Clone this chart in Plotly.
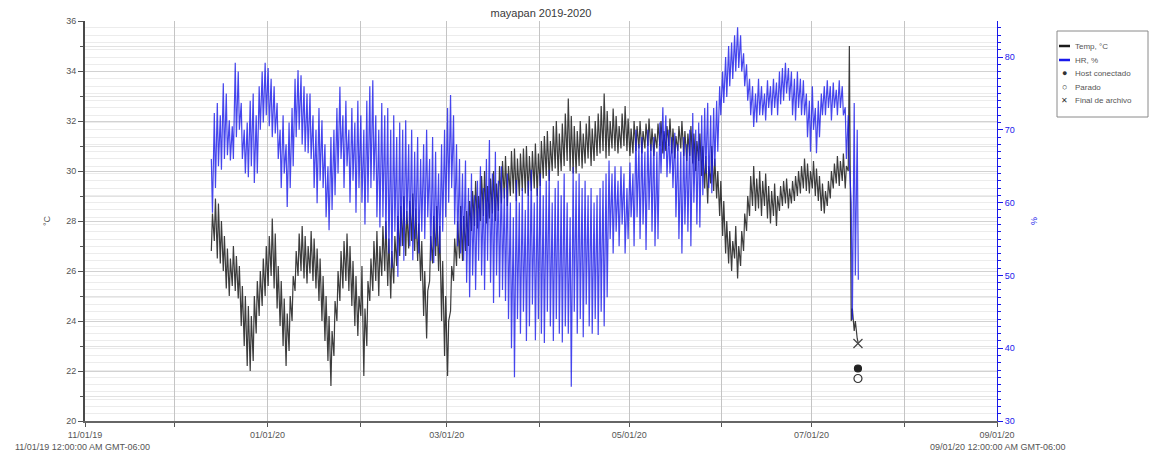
import datetime as dt
import plotly.graph_objects as go

# ---------------- data ----------------
start_day = "2019-12-13"   # first logged day

# daily temperature maxima / minima (degC), one value per day
temp_max = [
    28.3, 28.9, 28.7, 28.0, 27.4, 26.9, 26.5, 27.0, 26.6, 26.2,
    25.4, 25.0, 24.6, 24.2, 25.0, 25.6, 26.0, 26.5, 27.0, 27.4,
    28.1, 27.5, 26.2, 25.6, 24.9, 24.3, 25.0, 25.8, 26.8, 27.5,
    27.8, 27.4, 27.0, 27.6, 27.3, 26.9, 26.5, 25.8, 25.0, 24.2,
    23.6, 24.8, 26.0, 26.8, 27.2, 27.5, 27.0, 26.4, 25.8, 25.0,
    26.2, 24.5, 25.6, 26.5, 27.2, 27.6, 27.0, 27.8, 28.0, 27.3,
    26.8, 27.4, 28.2, 28.6, 29.0, 28.4, 28.8, 29.1, 28.5, 27.9,
    27.2, 26.0, 25.2, 27.4, 28.2, 28.6, 27.8, 26.4, 25.0, 24.0,
    26.2, 27.3, 28.0, 28.6, 28.2, 28.4, 28.8, 29.2, 29.6, 29.0,
    29.8, 30.0, 29.4, 29.7, 30.0, 29.5, 30.2, 30.4, 30.6, 30.2,
    30.8, 30.9, 30.5, 30.7, 30.9, 31.0, 30.6, 30.8, 31.1, 30.7,
    31.2, 31.4, 31.6, 31.2, 31.8, 32.0, 31.5, 31.9, 32.3, 32.9,
    32.2, 31.8, 31.6, 32.0, 31.5, 31.9, 32.2, 31.7, 32.0, 32.3,
    32.6, 33.1, 32.4, 32.0, 32.5, 32.2, 31.8, 32.3, 32.6, 32.1,
    31.7, 32.0, 31.8, 32.0, 31.6, 31.9, 32.1, 31.7, 31.5, 31.9,
    32.0, 31.6, 31.8, 32.1, 31.7, 31.4, 31.8, 32.0, 31.6, 31.5,
    31.8, 31.5, 31.2, 31.5, 31.0, 30.6, 30.2, 31.0, 30.5, 30.0,
    29.6, 28.8, 28.0, 27.6, 27.2, 27.8, 27.0, 27.6, 28.3, 29.0,
    29.8, 30.2, 29.7, 30.0, 29.6, 29.9, 29.4, 29.2, 29.5, 29.0,
    29.4, 29.6, 29.7, 29.3, 29.6, 29.8, 30.0, 30.2, 30.5, 30.3,
    30.0, 30.4, 30.1, 29.8, 29.5, 29.2, 29.6, 30.0, 30.3, 30.6,
    30.4, 30.7, 30.2, 35.0, 24.5, 24.0, 23.1,
]
temp_min = [
    26.8, 27.2, 26.5, 26.3, 26.0, 25.3, 25.0, 25.4, 25.2, 24.9,
    23.8, 23.0, 22.2, 22.0, 22.4, 23.5, 24.2, 24.6, 25.0, 25.4,
    25.8, 25.3, 24.5, 23.8, 23.0, 22.2, 22.8, 24.0, 25.2, 25.8,
    26.0, 25.7, 25.5, 25.9, 25.6, 25.3, 24.8, 24.0, 23.2, 22.4,
    21.4, 22.6, 24.0, 24.8, 25.3, 25.6, 25.2, 24.6, 23.8, 23.4,
    24.2, 21.8, 23.0, 24.8, 25.2, 25.6, 25.0, 25.8, 26.0, 25.4,
    24.9, 25.5, 26.2, 26.6, 27.0, 26.6, 26.9, 27.2, 26.8, 26.4,
    25.6, 24.2, 23.3, 25.6, 26.3, 26.6, 26.0, 24.0, 22.6, 21.8,
    24.4, 25.6, 26.2, 26.5, 26.4, 26.8, 27.0, 27.6, 27.8, 27.7,
    28.0, 28.2, 27.9, 28.1, 28.3, 28.0, 28.4, 28.7, 28.9, 28.6,
    29.0, 29.1, 28.8, 29.0, 29.2, 29.1, 29.0, 29.2, 29.3, 29.0,
    29.4, 29.7, 29.8, 29.6, 30.0, 30.1, 29.8, 30.0, 30.2, 30.4,
    30.0, 29.9, 29.9, 30.2, 30.1, 30.3, 30.5, 30.2, 30.4, 30.6,
    30.7, 30.8, 30.5, 30.6, 30.9, 30.8, 30.7, 30.9, 31.0, 30.8,
    30.6, 30.7, 30.8, 30.9, 30.7, 30.9, 31.0, 30.8, 30.6, 30.9,
    31.0, 30.7, 30.8, 31.0, 30.7, 30.5, 30.8, 30.9, 30.6, 30.4,
    30.6, 30.3, 30.0, 30.4, 29.8, 29.3, 28.7, 29.5, 29.2, 28.9,
    28.2, 27.4, 26.7, 26.3, 26.0, 26.5, 25.7, 26.2, 26.8, 27.6,
    28.2, 28.6, 28.4, 28.5, 28.2, 28.6, 28.1, 27.9, 28.2, 27.8,
    28.4, 28.6, 28.7, 28.5, 28.7, 28.8, 29.0, 29.1, 29.3, 29.2,
    29.1, 29.3, 29.0, 28.8, 28.4, 28.3, 28.6, 28.9, 29.3, 29.5,
    29.4, 29.6, 29.3, 30.0, 24.0, 23.6, 23.3,
]
# daily relative humidity maxima / minima (%)
rh_max = [
    66, 72.3, 73.7, 72, 76.4, 75, 71.3, 70.5, 79.2, 78,
    73.7, 70, 71, 74, 75, 72, 76, 78, 79.2, 78.5,
    77, 76, 73.7, 70, 72, 68, 71, 73, 77, 78.2,
    77.5, 76, 75, 75, 72, 70, 73, 71.3, 68, 65,
    69, 70, 73, 75.9, 72, 74, 70, 73, 71, 74,
    72, 70, 74, 76, 76.8, 72, 70, 73.7, 72, 73,
    70, 72, 69, 71, 70, 71.3, 68, 70, 67, 69,
    66, 68, 70, 66, 69, 67, 64, 68, 70, 73,
    74.8, 72, 68, 66, 64, 65.8, 62, 64, 61, 63,
    65, 62, 66, 68.6, 64, 67, 63, 65, 62, 64,
    60, 58, 63.1, 60, 62, 59, 63, 64.5, 60, 62,
    64, 61, 63, 64.5, 60, 62, 63, 61, 64, 60,
    58, 64.9, 63, 64, 62, 63, 61, 62, 60, 61,
    62, 63, 64, 65.8, 64, 65, 63, 65, 64, 62,
    65.5, 64, 70, 68, 69, 67, 70, 68, 69, 67,
    71, 73.1, 72, 70, 69, 69.6, 68, 67, 69, 68,
    70, 72.3, 70, 71, 72, 73, 73.7, 72, 73, 74,
    76, 78, 80, 81.5, 82, 83, 84.1, 83, 80.5, 79,
    77, 76, 75, 77, 76, 75, 76.8, 76, 77, 76.5,
    78, 78.5, 79.2, 78.5, 78, 77, 78, 77, 76.8, 75,
    74, 76, 73, 74, 75, 76, 76.8, 76, 76.5, 75.5,
    76.8, 76, 73.1, 72, 60, 73.7, 70,
]
rh_min = [
    58.6, 62, 65, 64.5, 66, 66.5, 65.8, 66, 69, 70,
    66, 64, 63.5, 65, 62.7, 64, 70, 71, 72, 70.5,
    69, 69.5, 66, 62, 64, 59.4, 62, 65, 69, 70,
    68, 67, 66.8, 66, 62, 59.9, 63, 62, 58, 56.2,
    59, 61, 64, 66, 62, 65, 60, 63, 58.6, 62,
    60, 57, 60, 62, 63, 58, 56.6, 58, 55, 53,
    51, 56, 49.8, 54, 52, 57, 54, 52.1, 55, 53,
    56, 55, 58, 52, 51.7, 54, 53, 56, 58, 60,
    62, 57, 54, 53, 52, 49, 47, 50, 48, 52,
    50, 48, 52, 49, 46.2, 50, 47, 48, 46.5, 44,
    40, 36, 44, 42, 45, 41, 43, 46, 41.1, 44,
    42, 40.7, 45, 43, 41, 44, 42, 40.8, 43, 42,
    34.7, 45, 42, 44, 41.5, 46, 43, 42, 44, 41.8,
    45, 43, 47, 55, 53, 56, 54, 57, 53, 55,
    58, 54, 58, 55, 57, 53.5, 59, 56, 54, 55,
    64, 66, 63.5, 64, 62, 58, 55, 53, 57, 56,
    54, 60, 57, 56.6, 61, 64, 62, 61.3, 65, 67,
    72, 73.7, 74.5, 76, 77, 78, 78.5, 78, 76, 74,
    72, 70.4, 71, 72, 72, 71.3, 73, 72, 73, 72,
    73.5, 74, 75, 74, 72, 71.3, 73, 72, 72, 69,
    67, 70, 66.8, 69, 72, 72, 73, 71.3, 73, 72,
    73, 72, 66, 65.4, 43.9, 50, 49.4,
]

# event markers (plotted on the temperature scale)
event_time = "2020-07-16 12:00"
event_names = ["Host conectado", "Parado", "Final de archivo"]
event_values = [22.1, 21.7, 23.1]

legend_labels = ["Temp, °C", "HR, %", "Host conectado", "Parado", "Final de archivo"]

x_tick_dates = ["2019-11-01", "2019-12-01", "2020-01-01", "2020-02-01", "2020-03-01",
                "2020-04-01", "2020-05-01", "2020-06-01", "2020-07-01", "2020-08-01",
                "2020-09-01"]
x_tick_labels = ["11/01/19", "", "01/01/20", "", "03/01/20", "", "05/01/20", "",
                 "07/01/20", "", "09/01/20"]
temp_ticks = [20, 22, 24, 26, 28, 30, 32, 34, 36]
rh_ticks = [30, 40, 50, 60, 70, 80]

assert len(temp_max) == len(temp_min) == len(rh_max) == len(rh_min)

# -------- build the time series: two readings per day --------
t0 = dt.datetime.fromisoformat(start_day)
times, temp, rh = [], [], []
for i in range(len(temp_max)):
    day = t0 + dt.timedelta(days=i)
    times += [day + dt.timedelta(hours=6), day + dt.timedelta(hours=15)]
    temp += [temp_min[i], temp_max[i]]
    rh += [rh_max[i], rh_min[i]]

FONT = "Arial, Liberation Sans, sans-serif"
BLUE = "rgb(25,25,235)"
GRAY = "#555555"
TEMP_COL = "#1c1c1c"

fig = go.Figure()
fig.add_trace(go.Scatter(x=times, y=temp, mode="lines", name=legend_labels[0],
                         line=dict(color=TEMP_COL, width=1.2), opacity=0.85))
fig.add_trace(go.Scatter(x=times, y=rh, mode="lines", name=legend_labels[1], yaxis="y2",
                         line=dict(color=BLUE, width=1.2), opacity=0.8))
sym = ["circle", "circle-open", "x-thin-open"]
cols = ["#222222", "#333333", "#444444"]
sizes = [7, 8, 9]
for n, v, s, c, z in zip(event_names, event_values, sym, cols, sizes):
    fig.add_trace(go.Scatter(x=[event_time], y=[v], mode="markers", name=n,
                             marker=dict(symbol=s, color=c, size=z,
                                         line=dict(color=c, width=1.2))))


# ---- hand-drawn legend box (pixel -> paper helpers) ----
def px(xpix):
    return (xpix - 85) / 912


def py(ypix):
    return (421 - ypix) / 400


shapes = [
    dict(type="rect", xref="paper", yref="paper", x0=px(1057), x1=px(1148),
         y0=py(117), y1=py(31), line=dict(color="#8a8a8a", width=1),
         fillcolor="white", layer="above"),
    dict(type="line", xref="paper", yref="paper", x0=px(1059), x1=px(1070),
         y0=py(46), y1=py(46), line=dict(color=TEMP_COL, width=2.5)),
    dict(type="line", xref="paper", yref="paper", x0=px(1059), x1=px(1070),
         y0=py(60), y1=py(60), line=dict(color=BLUE, width=2.5)),
]
row_y = [46, 60, 73, 87, 100]
annotations = []
for lab, yy in zip(legend_labels, row_y):
    annotations.append(dict(text=lab, xref="paper", yref="paper", x=px(1073), y=py(yy),
                            xanchor="left", yanchor="middle", showarrow=False,
                            font=dict(size=8, color="#555")))
for glyph, yy, sz in zip(["●", "○", "✕"], row_y[2:], [9, 9, 8]):
    annotations.append(dict(text=glyph, xref="paper", yref="paper", x=px(1064), y=py(yy),
                            xanchor="center", yanchor="middle", showarrow=False,
                            font=dict(size=sz, color="#333")))
annotations += [
    dict(text="°C", xref="paper", yref="paper", x=px(40), y=0.5,
         textangle=-90, showarrow=False, font=dict(size=9, color=GRAY)),
    dict(text="%", xref="paper", yref="paper", x=px(1041), y=0.5,
         textangle=-90, showarrow=False, font=dict(size=9, color=BLUE)),
    dict(text="11/01/19 12:00:00 AM GMT-06:00", xref="paper", yref="paper",
         x=px(82), y=py(447), xanchor="center", yanchor="middle",
         showarrow=False, font=dict(size=9, color=GRAY)),
    dict(text="09/01/20 12:00:00 AM GMT-06:00", xref="paper", yref="paper",
         x=px(998), y=py(447), xanchor="center", yanchor="middle",
         showarrow=False, font=dict(size=9, color=GRAY)),
]

fig.update_layout(
    width=1151, height=455,
    margin=dict(l=85, r=154, t=21, b=34),
    paper_bgcolor="white", plot_bgcolor="white",
    font=dict(family=FONT, size=9, color=GRAY),
    title=dict(text="mayapan 2019-2020", x=541 / 1151, xanchor="center",
               y=1 - 13 / 455, yanchor="middle",
               font=dict(size=11, color="#3a3a3a")),
    showlegend=False,
    xaxis=dict(type="date", range=["2019-11-01", "2020-09-01"],
               tickmode="array", tickvals=x_tick_dates, ticktext=x_tick_labels,
               ticks="outside", ticklen=4, tickcolor=GRAY,
               showgrid=True, gridcolor="#c4c4c4", gridwidth=1,
               showline=True, linecolor="#666666", linewidth=1.5,
               zeroline=False, tickfont=dict(size=9, color=GRAY)),
    yaxis=dict(range=[20, 36], tickmode="array", tickvals=temp_ticks,
               ticks="outside", ticklen=5, tickcolor=GRAY,
               showgrid=True, gridcolor="#d2d2d2",
               minor=dict(dtick=1, tick0=20, ticks="outside", ticklen=3,
                          tickcolor=GRAY, showgrid=True, gridcolor="#e2e2e2"),
               showline=True, linecolor="#4a4a4a", linewidth=2,
               zeroline=False, tickfont=dict(size=9, color=GRAY)),
    yaxis2=dict(range=[30, 84.95], overlaying="y", side="right",
                tickmode="array", tickvals=rh_ticks,
                ticks="outside", ticklen=5, tickcolor=BLUE,
                showgrid=False,
                minor=dict(dtick=1, tick0=30, ticks="outside", ticklen=3,
                           tickcolor=BLUE, showgrid=True, gridcolor="#ececec"),
                showline=True, linecolor=BLUE, linewidth=1,
                zeroline=False, tickfont=dict(size=9, color=BLUE)),
    shapes=shapes,
    annotations=annotations,
)

fig.write_html("out.html", config={"displayModeBar": False},
               post_script="document.body.style.margin='0';")
